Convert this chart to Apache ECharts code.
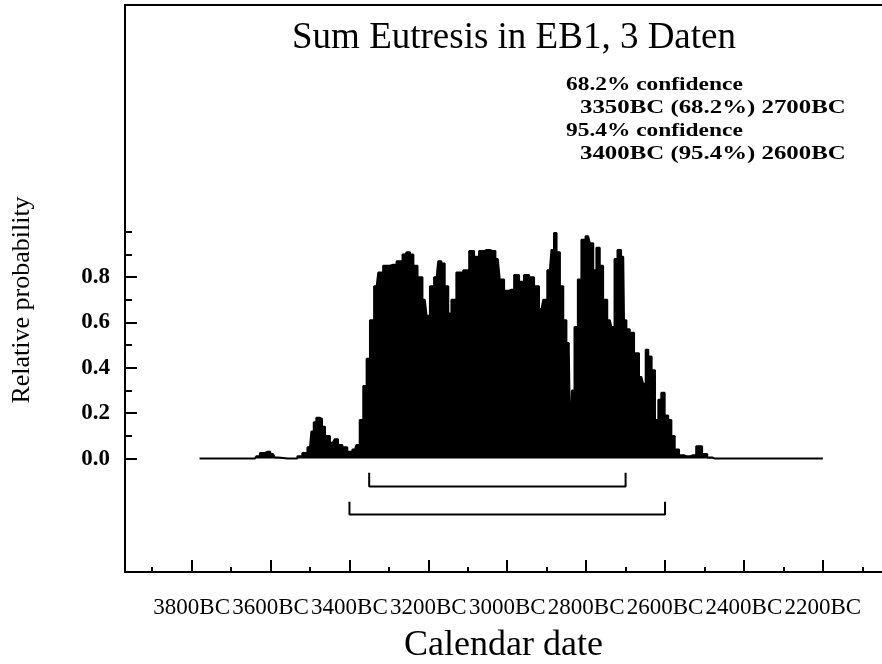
<!DOCTYPE html>
<html>
<head>
<meta charset="utf-8">
<script src="https://cdn.jsdelivr.net/npm/echarts@6/dist/echarts.min.js"></script>
<style>
  html, body { margin: 0; padding: 0; background: #fff; }
  #chart { width: 882px; height: 664px; }
</style>
</head>
<body>
<div id="chart"></div>
<script>
// summed probability (years BC)
var years = [3780, 3640, 3632, 3622, 3607, 3594, 3584, 3576, 3538, 3526, 3513, 3500, 3493, 3488, 3480, 3472, 3467, 3457,
    3442, 3434, 3424, 3412, 3399, 3386, 3379, 3369, 3361, 3352, 3344, 3331, 3323, 3306, 3289, 3272, 3259, 3251,
    3242, 3234, 3221, 3209, 3200, 3192, 3179, 3171, 3163, 3154, 3145, 3138, 3120, 3103, 3090, 3078, 3065, 3052,
    3036, 3024, 3014, 3002, 2989, 2976, 2964, 2951, 2938, 2926, 2913, 2905, 2892, 2884, 2879, 2871, 2862, 2854,
    2846, 2842, 2839, 2833, 2826, 2816, 2808, 2795, 2786, 2778, 2770, 2761, 2753, 2740, 2732, 2724, 2717, 2706,
    2702, 2694, 2685, 2672, 2660, 2651, 2647, 2638, 2630, 2621, 2613, 2606, 2596, 2588, 2580, 2571, 2558, 2546,
    2529, 2513, 2499, 2487, 2474, 2200];
var probs = [0, 0, 0.01, 0.025, 0.03, 0.02, 0.005, 0, 0, 0.01, 0.025, 0.05, 0.12, 0.16, 0.18, 0.175, 0.14, 0.10,
    0.07, 0.085, 0.06, 0.05, 0.03, 0.04, 0.06, 0.17, 0.32, 0.44, 0.61, 0.76, 0.82, 0.85, 0.855, 0.87, 0.90, 0.91,
    0.90, 0.85, 0.80, 0.70, 0.63, 0.76, 0.80, 0.87, 0.86, 0.76, 0.64, 0.70, 0.82, 0.83, 0.915, 0.89, 0.915, 0.92,
    0.915, 0.88, 0.79, 0.74, 0.745, 0.81, 0.78, 0.81, 0.80, 0.76, 0.66, 0.70, 0.83, 0.92, 0.995, 0.91, 0.76, 0.61,
    0.51, 0.49, 0.06, 0.30, 0.58, 0.79, 0.965, 0.98, 0.95, 0.83, 0.93, 0.85, 0.70, 0.61, 0.58, 0.88, 0.92, 0.89,
    0.61, 0.57, 0.555, 0.465, 0.36, 0.33, 0.48, 0.45, 0.39, 0.17, 0.26, 0.29, 0.19, 0.17, 0.10, 0.04, 0.015, 0.01,
    0.015, 0.055, 0.02, 0.005, 0, 0];

var majorYears = [3800, 3600, 3400, 3200, 3000, 2800, 2600, 2400, 2200];
var minorYears = [3900, 3700, 3500, 3300, 3100, 2900, 2700, 2500, 2300, 2100];
var probTicks = [0, 0.2, 0.4, 0.6, 0.8];
var probMinor = [0.1, 0.3, 0.5, 0.7, 0.9, 1.0];

var range68 = [3350, 2700];
var range95 = [3400, 2600];

var serif = "'Liberation Serif', 'DejaVu Serif', serif";

var bracket = function (r, top, bottom) {
    return [[r[0], top], [r[0], bottom], [r[1], bottom], [r[1], top]];
};

var chart = echarts.init(document.getElementById('chart'));

// older years on the left: inverse axis
var xMin = 2050, xMax = 3969;

chart.setOption({
    animation: false,
    backgroundColor: '#fff',
    grid: { left: 125, top: 5, right: 0, bottom: 92, containLabel: false, outerBoundsMode: 'none' },
    xAxis: [
        {
            type: 'value', inverse: true, min: xMin, max: xMax, position: 'bottom',
            axisLine: { show: true, onZero: false, lineStyle: { color: '#000', width: 2 } },
            axisTick: { show: true, inside: true, length: 12, customValues: majorYears, lineStyle: { color: '#000', width: 2 } },
            axisLabel: {
                customValues: majorYears, margin: 24, color: '#000', fontFamily: serif, fontSize: 23,
                formatter: function (v) { return v + 'BC'; }
            },
            splitLine: { show: false },
            name: 'Calendar date', nameLocation: 'middle', nameGap: 56,
            nameTextStyle: { color: '#000', fontFamily: serif, fontSize: 36 }
        },
        {
            type: 'value', inverse: true, min: xMin, max: xMax, position: 'bottom', offset: 0,
            axisLine: { show: false, onZero: false },
            axisTick: { show: true, inside: true, length: 5, customValues: minorYears, lineStyle: { color: '#000', width: 2 } },
            axisLabel: { show: false }, splitLine: { show: false }
        },
        {
            type: 'value', inverse: true, min: xMin, max: xMax, position: 'top',
            axisLine: { show: true, onZero: false, lineStyle: { color: '#000', width: 2 } },
            axisTick: { show: false }, axisLabel: { show: false }, splitLine: { show: false }
        }
    ],
    yAxis: [
        {
            type: 'value', min: -0.5, max: 2.0, position: 'left',
            axisLine: { show: true, onZero: false, lineStyle: { color: '#000', width: 2 } },
            axisTick: { show: true, inside: true, length: 12, customValues: probTicks, lineStyle: { color: '#000', width: 2 } },
            axisLabel: {
                customValues: probTicks, margin: 15, color: '#000', fontFamily: serif, fontSize: 23, fontWeight: 'bold',
                formatter: function (v) { return v.toFixed(1); }
            },
            splitLine: { show: false }
        },
        {
            type: 'value', min: -0.5, max: 2.0, position: 'left', offset: 0,
            axisLine: { show: false, onZero: false },
            axisTick: { show: true, inside: true, length: 7, customValues: probMinor, lineStyle: { color: '#000', width: 2 } },
            axisLabel: { show: false }, splitLine: { show: false }
        }
    ],
    series: [
        {
            type: 'line', xAxisIndex: 0, yAxisIndex: 0,
            data: years.map(function (y, i) { return [y, probs[i]]; }),
            symbol: 'none', step: 'middle',
            lineStyle: { color: '#000', width: 2 },
            areaStyle: { color: '#000', opacity: 1, origin: 0 }
        },
        {
            type: 'line', xAxisIndex: 0, yAxisIndex: 0, symbol: 'none',
            data: bracket(range68, -0.062, -0.123),
            lineStyle: { color: '#000', width: 2 }
        },
        {
            type: 'line', xAxisIndex: 0, yAxisIndex: 0, symbol: 'none',
            data: bracket(range95, -0.19, -0.247),
            lineStyle: { color: '#000', width: 2 }
        }
    ],
    graphic: [
        { type: 'text', x: 514, y: 38, style: { text: 'Sum Eutresis in EB1, 3 Daten', font: '37px ' + serif, fill: '#000', align: 'center', verticalAlign: 'middle' } },
        { type: 'text', x: 22, y: 300, rotation: Math.PI / 2, style: { text: 'Relative probability', font: '26px ' + serif, fill: '#000', align: 'center', verticalAlign: 'middle' } },
        { type: 'text', x: 566, y: 85, scaleX: 1.3, style: { text: '68.2% confidence', font: 'bold 18px ' + serif, fill: '#000', verticalAlign: 'middle' } },
        { type: 'text', x: 580, y: 108, scaleX: 1.38, style: { text: range68[0] + 'BC (68.2%) ' + range68[1] + 'BC', font: 'bold 18px ' + serif, fill: '#000', verticalAlign: 'middle' } },
        { type: 'text', x: 566, y: 131, scaleX: 1.3, style: { text: '95.4% confidence', font: 'bold 18px ' + serif, fill: '#000', verticalAlign: 'middle' } },
        { type: 'text', x: 580, y: 154, scaleX: 1.38, style: { text: range95[0] + 'BC (95.4%) ' + range95[1] + 'BC', font: 'bold 18px ' + serif, fill: '#000', verticalAlign: 'middle' } }
    ]
});
</script>
</body>
</html>
